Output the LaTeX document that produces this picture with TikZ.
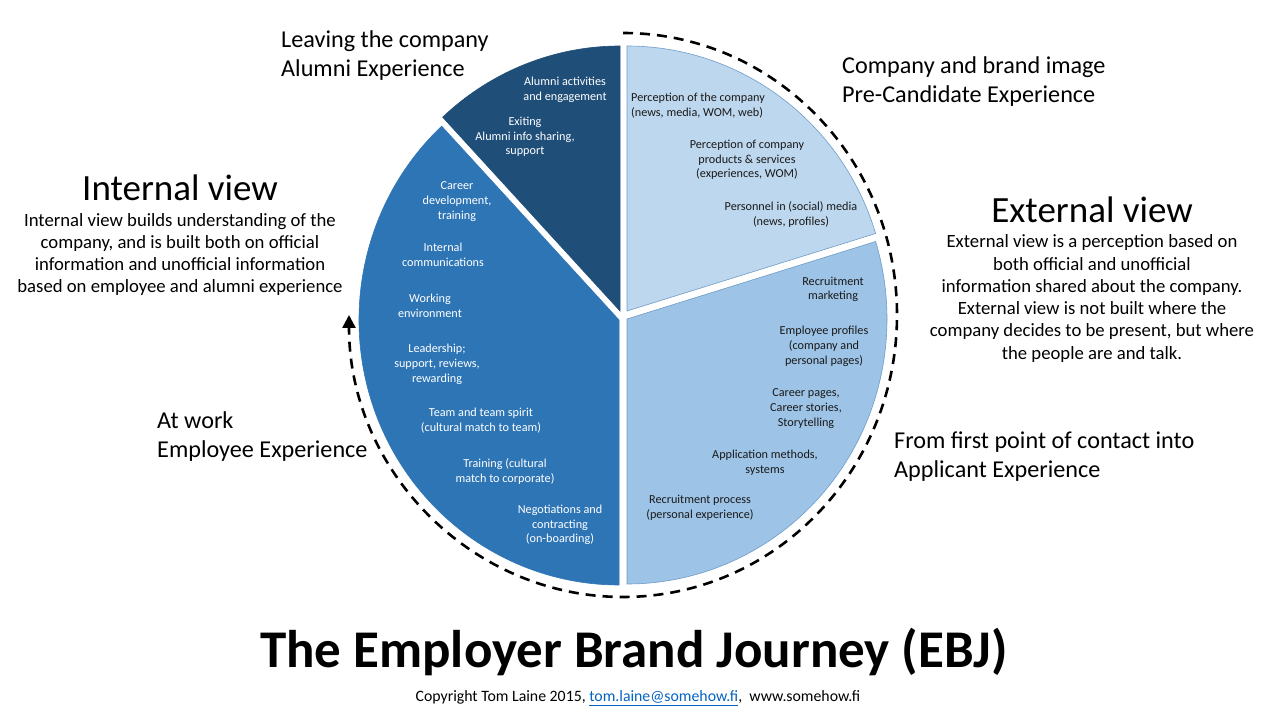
\documentclass[tikz,border=0pt]{standalone}
\usepackage{fontspec}
\setmainfont{Carlito}
\usetikzlibrary{arrows.meta}
\definecolor{darkslice}{HTML}{1F4E79}
\definecolor{midslice}{HTML}{2E75B6}
\definecolor{lightslice}{HTML}{BDD7EE}
\definecolor{medslice}{HTML}{9DC3E6}
\definecolor{edgeblue}{HTML}{6F9CC8}
\definecolor{linkblue}{HTML}{0563C1}
\definecolor{txt}{HTML}{1A1A1A}
\tikzset{
  slice/.style={line width=0.6pt},
  pietxt/.style={font=\fontsize{12.2}{14.7}\selectfont, align=center, inner sep=0pt},
  pietxtw/.style={pietxt, text=white},
  pietxtd/.style={pietxt, text=txt},
  stagetxt/.style={font=\fontsize{24.2}{29}\selectfont, align=left, inner sep=0pt, anchor=west},
  viewtitle/.style={font=\fontsize{37}{42}\selectfont, inner sep=0pt},
  viewdesc/.style={font=\fontsize{18.7}{22.3}\selectfont, align=center, inner sep=0pt},
  journey/.style={line width=2.6pt, dash pattern=on 10pt off 7pt}
}
\begin{document}
\begin{tikzpicture}[x=1pt,y=1pt]
\fill[white] (0,0) rectangle (1280,720);
\useasboundingbox (0,0) rectangle (1280,720);

% pie slices
\filldraw[slice, fill=darkslice, draw=darkslice] (620,409) -- ++(90:260 and 265) arc[start angle=90, end angle=133, x radius=260, y radius=265] -- cycle;
\filldraw[slice, fill=lightslice, draw=edgeblue] (627,409) -- ++(17:260 and 265) arc[start angle=17, end angle=90, x radius=260, y radius=265] -- cycle;
\filldraw[slice, fill=medslice, draw=edgeblue] (627,401) -- ++(-90:260 and 265) arc[start angle=-90, end angle=17, x radius=260, y radius=265] -- cycle;
\filldraw[slice, fill=midslice, draw=midslice] (619,400) -- ++(133:260 and 265) arc[start angle=133, end angle=270, x radius=260, y radius=265] -- cycle;

% journey dashed arc
\draw[journey, -{Triangle[length=13pt,width=13pt]}] (623,687) arc[start angle=90, end angle=-180, x radius=274, y radius=282];

% slice texts
\node[pietxtw] (alumniact) at (565,630.5) {Alumni activities\\and engagement};
\node[pietxtw] (exiting) at (525,583) {Exiting\\Alumni info sharing,\\support};
\node[pietxtd, align=left, anchor=west] (percomp) at (631,614.5) {Perception of the company\\(news, media, WOM, web)};
\node[pietxtd] (perprod) at (747,560) {Perception of company\\products \& services\\(experiences, WOM)};
\node[pietxtd] (personnel) at (791,505.5) {Personnel in (social) media\\(news, profiles)};
\node[pietxtd] (recmark) at (833,430.5) {Recruitment\\marketing};
\node[pietxtd] (empprof) at (824,373.5) {Employee profiles\\(company and\\personal pages)};
\node[pietxtd] (carpages) at (806,311.5) {Career pages,\\Career stories,\\Storytelling};
\node[pietxtd] (appmeth) at (765,257.5) {Application methods,\\systems};
\node[pietxtd] (recproc) at (700,212.5) {Recruitment process\\(personal experience)};
\node[pietxtw] (cardev) at (457,518.5) {Career\\development,\\training};
\node[pietxtw] (intcomm) at (443,465.5) {Internal\\communications};
\node[pietxtw] (workenv) at (430,414.5) {Working\\environment};
\node[pietxtw] (leader) at (437,355.5) {Leadership;\\support, reviews,\\rewarding};
\node[pietxtw] (team) at (481,299.5) {Team and team spirit\\(cultural match to team)};
\node[pietxtw] (training) at (505,248.5) {Training (cultural\\match to corporate)};
\node[pietxtw] (negot) at (560,195) {Negotiations and\\contracting\\(on-boarding)};

% stage labels
\node[stagetxt] (leaving) at (281,664.5) {Leaving the company\\Alumni Experience};
\node[stagetxt] (company) at (842,638.5) {Company and brand image\\Pre-Candidate Experience};
\node[stagetxt] (atwork) at (157,283.5) {At work\\Employee Experience};
\node[stagetxt] (firstpoint) at (894,263.5) {From first point of contact into\\Applicant Experience};

% views
\node[viewtitle] (intview) at (180,532) {Internal view};
\node[viewdesc] (intdesc) at (180,465.5) {Internal view builds understanding of the\\company, and is built both on official\\information and unofficial information\\based on employee and alumni experience};
\node[viewtitle] (extview) at (1092,510) {External view};
\node[viewdesc] (extdesc) at (1092,421.5) {External view is a perception based on\\both official and unofficial\\information shared about the company.\\External view is not built where the\\company decides to be present, but where\\the people are and talk.};

% title and copyright
\node[font=\fontsize{53}{60}\selectfont\bfseries, inner sep=0pt] (title) at (634,68) {The Employer Brand Journey (EBJ)};
\node[font=\fontsize{15.8}{18}\selectfont, inner sep=0pt] (copy) at (638,22) {Copyright Tom Laine 2015, \textcolor{linkblue}{\underline{tom.laine@somehow.fi}},\ \ www.somehow.fi};
\end{tikzpicture}
\end{document}
